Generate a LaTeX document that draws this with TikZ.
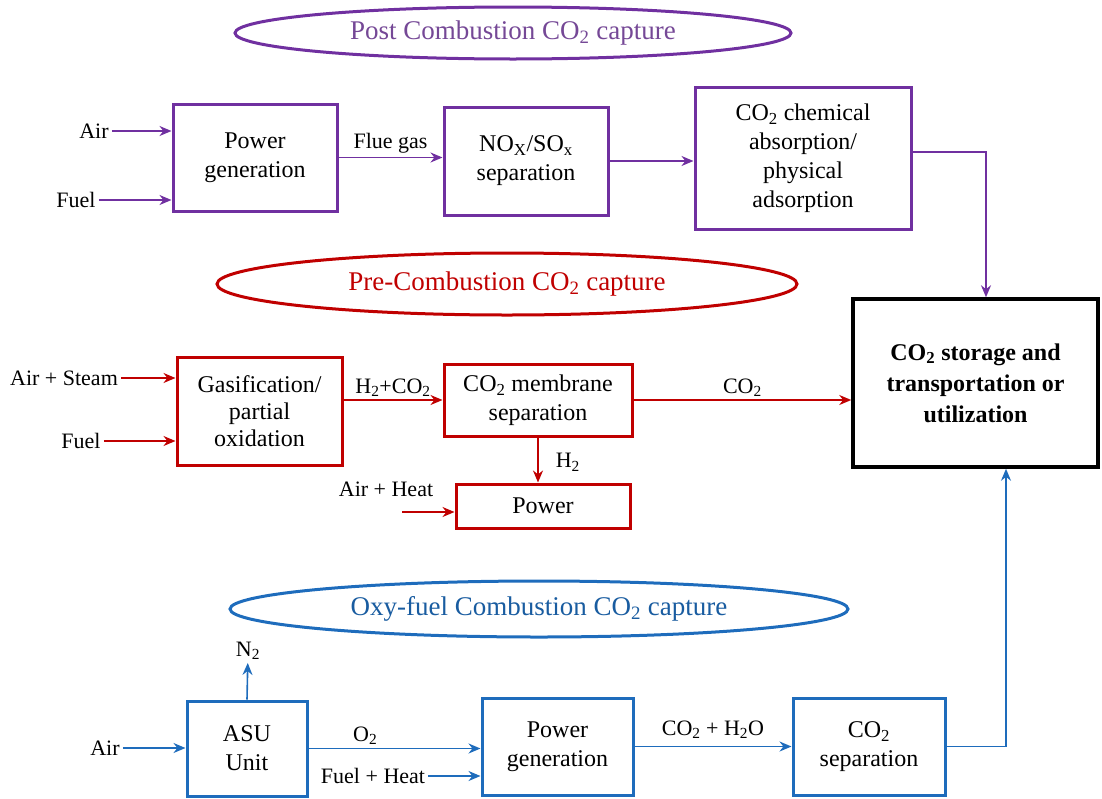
\documentclass[tikz,border=0pt]{standalone}
\usepackage{fontspec}
\setmainfont{Liberation Serif}
\usepackage{tikz}
\usetikzlibrary{shapes}
\usetikzlibrary{positioning}
\usetikzlibrary{arrows.meta}
\usepackage{xcolor}
\definecolor{postc}{RGB}{112,48,160}
\definecolor{prec}{RGB}{192,0,0}
\definecolor{oxyc}{RGB}{30,108,188}
\newcommand{\cotwo}{CO\textsubscript{2}}

\begin{document}
\begin{tikzpicture}[x=1pt,y=-1pt,
  box/.style={draw=#1,line width=3pt,align=center,inner sep=2pt,text=black,font=\fontsize{24}{29}\selectfont},
  lbl/.style={text=black,inner sep=3pt,font=\fontsize{22}{26}\selectfont},
  oval/.style={ellipse,draw,line width=3pt,inner sep=0pt,font=\fontsize{27}{32}\selectfont},
  flow/.style={-{Stealth[length=12pt,width=10pt]},line width=1.6pt}]
\useasboundingbox (0,0) rectangle (1102,798);
\node[oval,draw=postc,text=postc!70!gray,minimum width=556pt,minimum height=52pt] (postov) at (513,33) {Post Combustion \cotwo{} capture};
\node[oval,draw=prec,text=prec,minimum width=580pt,minimum height=62pt] (preov) at (507,284) {Pre-Combustion \cotwo{} capture};
\node[oval,draw=oxyc,text=oxyc!85!black,minimum width=618pt,minimum height=56pt] (oxyov) at (539,609) {Oxy-fuel Combustion \cotwo{} capture};
\node[box=black,line width=3.5pt,minimum width=245pt,minimum height=168pt,font=\bfseries\fontsize{24}{31}\selectfont] (store) at (975.5,383) {\cotwo{} storage and\\transportation or\\utilization};

\node[box=postc,minimum width=164pt,minimum height=107pt] (pg1) at (255,157.5) {Power\\generation};
\node[box=postc,minimum width=164pt,minimum height=108pt] (nox) at (526,161) {NO\textsubscript{X}/SO\textsubscript{x}\\separation};
\node[box=postc,minimum width=216pt,minimum height=142pt] (absb) at (803,158) {\cotwo{} chemical\\absorption/\\physical\\adsorption};
\node[lbl] (air1) at (94,131) {Air};
\node[lbl] (fuel1) at (76,200) {Fuel};
\draw[flow,postc] (air1) -- (air1 -| pg1.west);
\draw[flow,postc] (fuel1) -- (fuel1 -| pg1.west);
\draw[flow,postc] (pg1.east) -- node[lbl,above] {Flue gas} (pg1.east -| nox.west);
\draw[flow,postc] (nox.east) -- (nox.east -| absb.west);
\draw[flow,postc] ([yshift=6pt]absb.east) -| ([xshift=10.5pt]store.north);

\node[box=prec,minimum width=165pt,minimum height=108pt,font=\fontsize{24}{27}\selectfont] (gas) at (259.5,411) {Gasification/\\partial\\oxidation};
\node[box=prec,minimum width=188pt,minimum height=72pt] (mem) at (538,400) {\cotwo{} membrane\\separation};
\node[box=prec,minimum width=174pt,minimum height=44pt] (pow) at (543,506) {Power};
\node[lbl] (air2) at (64,378) {Air + Steam};
\node[lbl] (fuel2) at (81,441) {Fuel};
\node[lbl] (airh) at (386,489) {Air + Heat};
\coordinate (airhin) at (402,512);
\draw[flow,prec] (air2) -- (air2 -| gas.west);
\draw[flow,prec] (fuel2) -- (fuel2 -| gas.west);
\draw[flow,prec] (gas.east |- mem.west) -- node[lbl,above] {H\textsubscript{2}+CO\textsubscript{2}} (mem.west);
\draw[flow,prec] (mem.east) -- node[lbl,above] {\cotwo} (mem.east -| store.west);
\draw[flow,prec] (mem.south) -- node[lbl,right,pos=0.55,xshift=14pt] {H\textsubscript{2}} (mem.south |- pow.north);
\draw[flow,prec] (airhin) -- (airhin -| pow.west);

\node[box=oxyc,minimum width=120pt,minimum height=95pt] (asu) at (247,748.5) {ASU\\Unit};
\node[box=oxyc,minimum width=151pt,minimum height=97pt] (pg3) at (557.5,746.5) {Power\\generation};
\node[box=oxyc,minimum width=152pt,minimum height=97pt] (sep) at (869,746.5) {\cotwo\\separation};
\node[lbl] (air3) at (105,748) {Air};
\node[lbl] (n2) at (248,651) {N\textsubscript{2}};
\node[lbl] (fuel3) at (373,776) {Fuel + Heat};
\draw[flow,oxyc] (air3) -- (air3 -| asu.west);
\draw[flow,oxyc] (asu.north) -- (n2);
\draw[flow,oxyc] (asu.east) -- node[lbl,above,pos=0.33] {O\textsubscript{2}} (asu.east -| pg3.west);
\draw[flow,oxyc] (fuel3) -- (fuel3 -| pg3.west);
\draw[flow,oxyc] (pg3.east) -- node[lbl,above,yshift=4pt] {\cotwo{} + H\textsubscript{2}O} (pg3.east -| sep.west);
\draw[flow,oxyc] (sep.east) -| ([xshift=30.5pt]store.south);
\end{tikzpicture}
\end{document}
